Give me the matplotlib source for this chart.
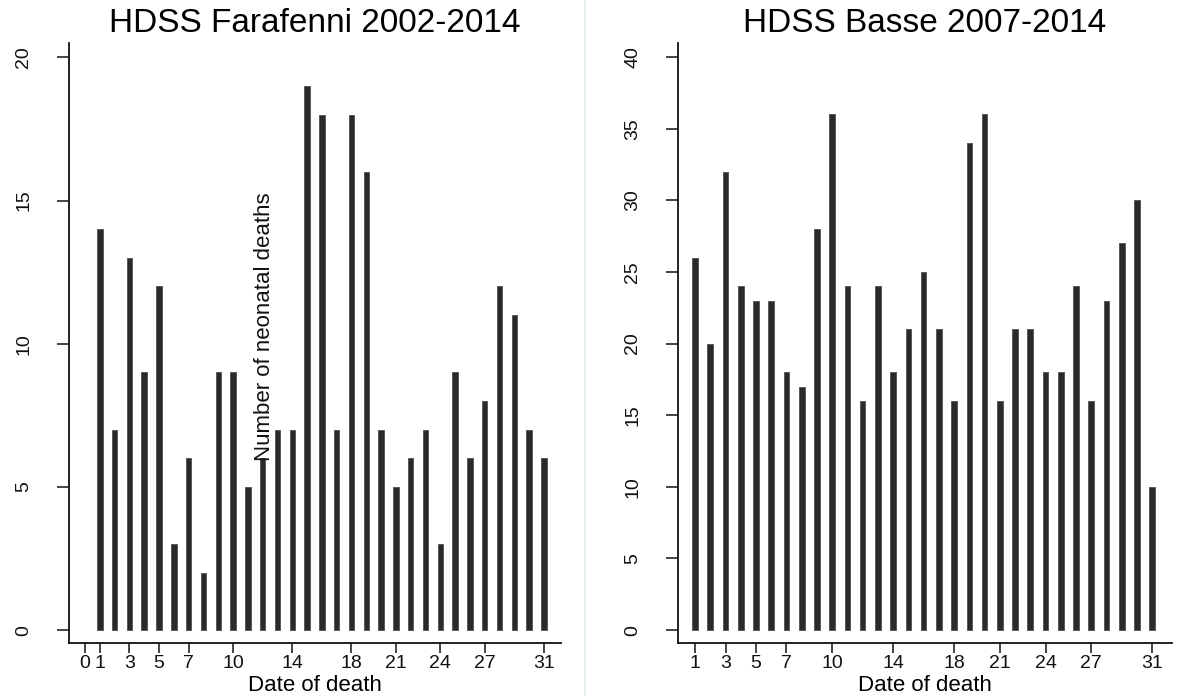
import matplotlib
matplotlib.use("Agg")
import matplotlib.pyplot as plt
from matplotlib.lines import Line2D

plt.rcParams['font.family'] = ['Liberation Sans', 'DejaVu Sans']

# Neonatal deaths by calendar day of death
days = list(range(1, 32))
farafenni_deaths = [14, 7, 13, 9, 12, 3, 6, 2, 9, 9, 5, 6, 7, 7, 19, 18,
                    7, 18, 16, 7, 5, 6, 7, 3, 9, 6, 8, 12, 11, 7, 6]
basse_deaths = [26, 20, 32, 24, 23, 23, 18, 17, 28, 36, 24, 16, 24, 18, 21, 25,
                21, 16, 34, 36, 16, 21, 21, 18, 18, 24, 16, 23, 27, 30, 10]

farafenni_title = "HDSS Farafenni 2002-2014"
basse_title = "HDSS Basse 2007-2014"
farafenni_xticks = [0, 1, 3, 5, 7, 10, 14, 18, 21, 24, 27, 31]
basse_xticks = [1, 3, 5, 7, 10, 14, 18, 21, 24, 27, 31]
farafenni_yticks = [0, 5, 10, 15, 20]
basse_yticks = [0, 5, 10, 15, 20, 25, 30, 35, 40]
x_label = "Date of death"
y_label = "Number of neonatal deaths"

W, H = 1177, 696
fig = plt.figure(figsize=(W / 100, H / 100), dpi=100)
fig.patch.set_facecolor('white')


def px_axes(x0, x1, ytop, ybot):
    return fig.add_axes([x0 / W, (H - ybot) / H, (x1 - x0) / W, (ybot - ytop) / H])


def draw_panel(ax, values, xticks, yticks, xlim, ylim, title):
    ax.bar(days, values, width=0.37, color='#2a2a2a',
           edgecolor='#5a5a5a', linewidth=0.7, zorder=3)
    ax.set_xlim(*xlim)
    ax.set_ylim(*ylim)
    ax.set_xticks(xticks)
    ax.set_yticks(yticks)
    for s in ('top', 'right'):
        ax.spines[s].set_visible(False)
    for s in ('left', 'bottom'):
        ax.spines[s].set_linewidth(1.3)
        ax.spines[s].set_color('#111111')
    ax.tick_params(axis='x', length=7, width=1.1, labelsize=14, pad=2, colors='#111111')
    ax.tick_params(axis='y', length=9, width=1.1, labelsize=14, pad=17.5, colors='#111111')
    for lab in ax.get_yticklabels():
        lab.set_rotation(90)
        lab.set_va('center')
    ax.set_xlabel(x_label, fontsize=16, labelpad=2)
    ax.set_title(title, fontsize=24, pad=8)


ax1 = px_axes(69, 561, 43, 643)
draw_panel(ax1, farafenni_deaths, farafenni_xticks, farafenni_yticks,
           (-1.08, 32.15), (-0.45, 20.5), farafenni_title)

ax2 = px_axes(678, 1172, 43, 643)
draw_panel(ax2, basse_deaths, basse_xticks, basse_yticks,
           (-0.12, 32.3), (-0.9, 40.98), basse_title)

# y-axis title drawn inside the first panel
fig.text(264 / W, (H - 461) / H, y_label, rotation=90, fontsize=16,
         ha='center', va='bottom', color='#111111')

# thin separator between the two panels
fig.add_artist(Line2D([585 / W, 585 / W], [0, 1], transform=fig.transFigure,
                      color='#e6edf3', linewidth=1.5))

fig.savefig('out.png', dpi=100)
